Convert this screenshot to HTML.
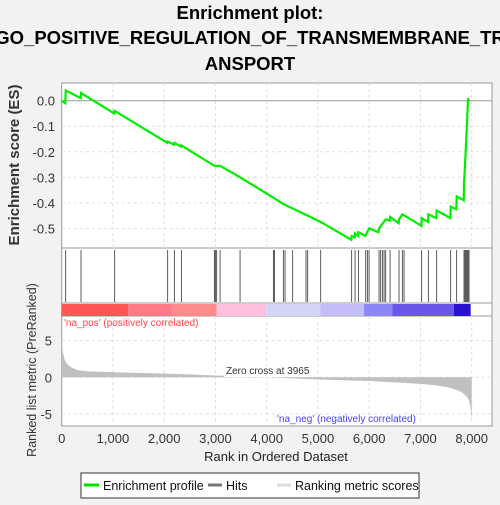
<!DOCTYPE html>
<html><head><meta charset="utf-8"><style>
body{margin:0;background:#f2f2f2;width:500px;height:500px;overflow:hidden;font-family:"Liberation Sans",sans-serif}
</style></head><body>
<svg width="500" height="500" viewBox="0 0 500 500" xmlns="http://www.w3.org/2000/svg" font-family="Liberation Sans, sans-serif">
<g font-weight="bold" font-size="18.5" text-anchor="middle" fill="#000">
<text x="250" y="19">Enrichment plot:</text>
<text x="250" y="44">GO_POSITIVE_REGULATION_OF_TRANSMEMBRANE_TR</text>
<text x="250" y="70">ANSPORT</text>
</g>
<rect x="61.7" y="83" width="430.3" height="165" fill="#fff" stroke="#999"/>
<rect x="61.7" y="248" width="430.3" height="55" fill="#fff" stroke="#999"/>
<rect x="61.7" y="303" width="430.3" height="13" fill="#fff" stroke="#999"/>
<rect x="61.7" y="316" width="430.3" height="110" fill="#fff" stroke="#999"/>
<g id="grid"></g>
<g id="colorbar"></g>
<g id="hits"></g>
<g id="metric"></g>
<g id="es"></g>
<g id="axes" font-size="13" fill="#333"></g>
<text x="19" y="165" transform="rotate(-90 19 165)" text-anchor="middle" font-size="15" font-weight="bold" fill="#333">Enrichment score (ES)</text>
<text x="36" y="370" transform="rotate(-90 36 370)" text-anchor="middle" font-size="12.5" fill="#333">Ranked list metric (PreRanked)</text>
<text x="276" y="461" text-anchor="middle" font-size="13" fill="#222">Rank in Ordered Dataset</text>
<text x="64" y="326" font-size="10" fill="#ff4444">'na_pos' (positively correlated)</text>
<text x="277" y="422" font-size="10" fill="#4444ee">'na_neg' (negatively correlated)</text>
<rect x="224" y="366" width="80" height="11" fill="#fff"/>
<text x="226" y="374" font-size="10" fill="#333">Zero cross at 3965</text>
<g>
<rect x="81" y="473" width="338" height="25" fill="#fff" stroke="#333"/>
<line x1="84" y1="485" x2="99" y2="485" stroke="#00e000" stroke-width="3"/>
<text x="103" y="490" font-size="12.5" fill="#111">Enrichment profile</text>
<line x1="208" y1="485" x2="222" y2="485" stroke="#777" stroke-width="3"/>
<text x="226" y="490" font-size="12.5" fill="#111">Hits</text>
<line x1="277" y1="485" x2="291" y2="485" stroke="#ddd" stroke-width="3"/>
<text x="295" y="490" font-size="12.5" fill="#111">Ranking metric scores</text>
</g>
</svg>
<script>
const hitRanks=[78,377,1034,2068,2198,2335,2979,2998,3024,3090,3480,4130,4150,4325,4358,4507,4767,4800,5054,5658,5724,5789,5932,5964,5997,6192,6224,6257,6290,6322,6407,6582,6647,6680,7024,7154,7317,7590,7707,7850,7870,7889,7909,7928,7948];
const esRanks=[0,70,78,370,377,1025,1034,2060,2068,2190,2198,2330,2335,2979,3090,3480,4130,4325,4800,5054,5650,5658,5720,5724,5785,5789,5925,5997,6180,6192,6322,6400,6407,6575,6582,6647,7020,7024,7150,7154,7310,7317,7585,7590,7700,7707,7845,7850,7870,7889,7909,7928,7960];
const esValues=[0,-0.01,0.04,0.01,0.03,-0.05,-0.04,-0.165,-0.16,-0.172,-0.165,-0.18,-0.175,-0.255,-0.255,-0.3,-0.38,-0.405,-0.45,-0.475,-0.545,-0.53,-0.535,-0.52,-0.53,-0.515,-0.53,-0.5,-0.515,-0.5,-0.465,-0.47,-0.455,-0.48,-0.465,-0.445,-0.49,-0.46,-0.475,-0.445,-0.46,-0.43,-0.46,-0.415,-0.425,-0.375,-0.39,-0.32,-0.25,-0.17,-0.085,0.005,0.0];
const metricRanks=[0,20,60,120,200,300,500,1000,1500,2000,2500,3000,3500,3965,4500,5000,5500,6000,6500,7000,7300,7500,7700,7800,7900,7950,7980,8000];
const metricValues=[5.2,3.5,2.3,1.7,1.3,1.0,0.8,0.7,0.6,0.5,0.4,0.25,0.12,0,-0.15,-0.3,-0.4,-0.5,-0.7,-0.9,-1.1,-1.3,-1.7,-2.0,-2.6,-3.2,-4.2,-5.8];
const esTicks=[0,-0.1,-0.2,-0.3,-0.4,-0.5];
const metricTicks=[5,0,-5];
const xTicks=[0,1000,2000,3000,4000,5000,6000,7000,8000];
const xTickLabels=["0","1,000","2,000","3,000","4,000","5,000","6,000","7,000","8,000"];
const barStops=[0,1300,2150,3020,3990,5050,5900,6450,7650,7980];
const barColors=["#ff5555","#ff7a85","#ff8a8a","#ffc0e0","#d4d4f8","#c4bcf8","#8a86f8","#6a56e8","#2a10d0"];
const NS="http://www.w3.org/2000/svg";
const X=r=>61.7+r*410/8000;
const YE=v=>100.7-v*255.3;
const YM=v=>377.3-v*7.33;
function mk(tag,attrs,parent){const e=document.createElementNS(NS,tag);for(const k in attrs)e.setAttribute(k,attrs[k]);document.getElementById(parent).appendChild(e);return e;}
xTicks.forEach(t=>{if(t===0)return;
 let g=mk('line',{x1:X(t),x2:X(t),y1:83,y2:248,stroke:'#ddd','stroke-dasharray':'3,3'},'grid');
 
 
 let g2=mk('line',{x1:X(t),x2:X(t),y1:316,y2:426,stroke:'#ddd','stroke-dasharray':'3,3'},'grid');
 
 });
esTicks.forEach(t=>{let g=mk('line',{x1:61.7,x2:492,y1:YE(t),y2:YE(t),stroke:t===0?'#999':'#ddd','stroke-dasharray':t===0?'':'3,3'},'grid');
 
 
 let l=mk('text',{x:55,y:YE(t)+5,'text-anchor':'end'},'axes');l.textContent=t.toFixed(1);
 
 });
metricTicks.forEach(t=>{let g=mk('line',{x1:61.7,x2:492,y1:YM(t),y2:YM(t),stroke:'#ddd','stroke-dasharray':'3,3'},'grid');
 
 
 let l=mk('text',{x:52,y:YM(t)+5,'text-anchor':'end'},'axes');l.textContent=t;
 
 });
xTicks.forEach((t,i)=>{let l=mk('text',{x:X(t),y:443,'text-anchor':'middle'},'axes');l.textContent=xTickLabels[i];
 
 });
barColors.forEach((c,i)=>{let r=mk('rect',{x:X(barStops[i]),y:304,width:X(barStops[i+1])-X(barStops[i]),height:12,fill:c},'colorbar');
 
 });
hitRanks.forEach(r=>{let l=mk('line',{x1:X(r),x2:X(r),y1:250,y2:302,stroke:'#333','stroke-width':0.8},'hits');
 
 });
let d='M'+X(0)+','+YM(0);
metricRanks.forEach((r,i)=>{d+=' L'+X(r)+','+YM(metricValues[i]);});
d+=' L'+X(8000)+','+YM(0)+' Z';
let a=mk('path',{d:d,fill:'#c0c0c0'},'metric');


let pts=esRanks.map((r,i)=>X(r)+','+YE(esValues[i])).join(' ');
let p=mk('polyline',{points:pts,fill:'none',stroke:'#00ee00','stroke-width':2.2},'es');


</script>
</body></html>
